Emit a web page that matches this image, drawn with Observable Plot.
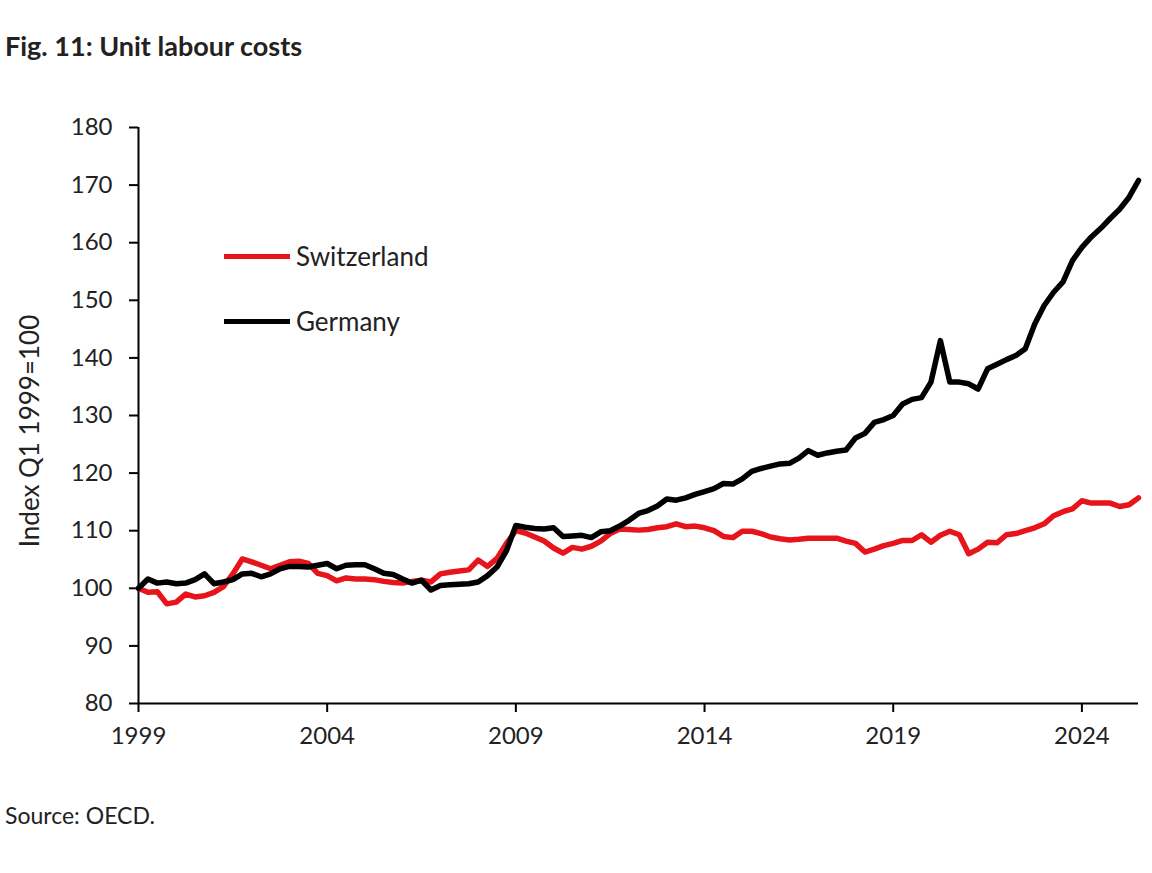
<!DOCTYPE html>
<html>
<head>
<meta charset="utf-8">
<script src="https://cdn.jsdelivr.net/npm/d3@7"></script>
<script src="https://cdn.jsdelivr.net/npm/@observablehq/plot@0.6"></script>
<style>
  html, body { margin: 0; padding: 0; background: #fff; }
  body { width: 1152px; height: 873px; position: relative; font-family: Lato, "Open Sans", sans-serif; color: #222; overflow: hidden; }
  #title { position: absolute; left: 5px; top: 31px; font-size: 27px; font-weight: bold; line-height: 30px; }
  #chart { position: absolute; left: 0; top: 100px; }
  #ylabel { position: absolute; left: 29px; top: 431px; font-size: 26px; white-space: nowrap; transform: translate(-50%, -50%) rotate(-90deg); line-height: 28px; }
  #legend { position: absolute; left: 224px; top: 238px; font-size: 26px; }
  .item { display: flex; align-items: center; height: 36px; margin-bottom: 29px; }
  .swatch { width: 66px; height: 5px; margin-right: 6px; }
  #source { position: absolute; left: 5px; top: 801px; font-size: 23px; line-height: 28px; }
</style>
</head>
<body>
<div id="title">Fig. 11: Unit labour costs</div>
<div id="chart"></div>
<div id="ylabel"></div>
<div id="legend"></div>
<div id="source">Source: OECD.</div>
<script>
const startYear = 1999;
const seriesNames = ["Switzerland", "Germany"];
const seriesColors = ["#e8141b", "#000000"];
const yTicks = [80, 90, 100, 110, 120, 130, 140, 150, 160, 170, 180];
const xTicks = [1999, 2004, 2009, 2014, 2019, 2024];
const yLabel = "Index Q1 1999=100";

// Quarterly index values, Q1 1999 = 100 (1999Q1 .. 2025Q3)
const switzerland = [
  100.0, 99.3, 99.4, 97.3,
  97.6, 99.0, 98.5, 98.7,
  99.3, 100.3, 102.5, 105.1,
  104.6, 104.0, 103.4, 104.0,
  104.6, 104.7, 104.3, 102.6,
  102.2, 101.3, 101.8, 101.6,
  101.6, 101.5, 101.2, 101.0,
  100.9, 101.2, 101.4, 101.1,
  102.5, 102.8, 103.0, 103.2,
  104.9, 103.8, 105.2, 107.8,
  110.0, 109.6, 108.9, 108.2,
  107.0, 106.1, 107.1, 106.8,
  107.3, 108.2, 109.5, 110.3,
  110.2, 110.1, 110.2, 110.5,
  110.7, 111.2, 110.7, 110.8,
  110.5, 110.0, 109.0, 108.8,
  109.9, 109.9, 109.5, 108.9,
  108.6, 108.4, 108.5, 108.7,
  108.7, 108.7, 108.7, 108.2,
  107.8, 106.3, 106.8, 107.4,
  107.8, 108.3, 108.3, 109.3,
  108.0, 109.2, 109.9, 109.3,
  106.0, 106.8, 108.0, 107.9,
  109.3, 109.5, 110.0, 110.5,
  111.2, 112.6, 113.3, 113.8,
  115.2, 114.8, 114.8, 114.8,
  114.2, 114.5, 115.7
];
const germany = [
  100.0, 101.6, 100.9, 101.1,
  100.8, 100.9, 101.5, 102.5,
  100.8, 101.1, 101.5, 102.5,
  102.6, 102.0, 102.5, 103.4,
  103.8, 103.8, 103.7, 104.0,
  104.3, 103.4, 104.0, 104.1,
  104.1, 103.4, 102.6, 102.4,
  101.6, 100.9, 101.4, 99.7,
  100.5, 100.6, 100.7, 100.8,
  101.1, 102.2, 103.7, 106.5,
  110.9, 110.6, 110.4, 110.3,
  110.5, 109.0, 109.1, 109.2,
  108.8, 109.8, 110.0, 110.8,
  111.8, 113.0, 113.5, 114.3,
  115.5, 115.3, 115.7, 116.3,
  116.8, 117.3, 118.2, 118.1,
  119.0, 120.3, 120.8, 121.2,
  121.6, 121.7, 122.6, 123.9,
  123.1, 123.5, 123.8, 124.0,
  126.1, 126.9, 128.8, 129.3,
  130.0, 132.0, 132.8, 133.1,
  135.8, 143.0, 135.8, 135.8,
  135.5, 134.6, 138.1, 138.9,
  139.7, 140.4, 141.6, 145.9,
  149.1, 151.4, 153.2, 156.9,
  159.2, 161.0, 162.5, 164.2,
  165.8, 167.9, 170.8
];

const toRows = (vals, name) => vals.map((v, i) => ({t: startYear + i / 4, v, name}));
const swissRows = toRows(switzerland, seriesNames[0]);
const germanRows = toRows(germany, seriesNames[1]);
const lastT = startYear + (switzerland.length - 1) / 4;

const font = "Lato, 'Open Sans', sans-serif";
const chart = Plot.plot({
  width: 1152,
  height: 680,
  marginLeft: 138,
  marginRight: 14,
  marginTop: 27,
  marginBottom: 77,
  style: {fontFamily: font, fontSize: "24px", color: "#222", background: "#fff", overflow: "visible"},
  x: {domain: [startYear, lastT]},
  y: {domain: [80, 180]},
  color: {domain: seriesNames, range: seriesColors},
  marks: [
    Plot.axisY({ticks: yTicks, tickSize: 9, tickPadding: 17, tickFormat: d3.format("d"),
      label: null, fontSize: 24, stroke: "#000", strokeWidth: 2}),
    Plot.axisX({ticks: xTicks, tickSize: 9, tickPadding: 14, tickFormat: d3.format("d"),
      label: null, fontSize: 24, stroke: "#000", strokeWidth: 2}),
    Plot.ruleX([startYear], {stroke: "#000", strokeWidth: 2}),
    Plot.ruleY([80], {stroke: "#000", strokeWidth: 2}),
    Plot.line(swissRows, {x: "t", y: "v", stroke: "name", strokeWidth: 5.5, strokeLinejoin: "round", strokeLinecap: "round"}),
    Plot.line(germanRows, {x: "t", y: "v", stroke: "name", strokeWidth: 5.5, strokeLinejoin: "round", strokeLinecap: "round"})
  ]
});
document.getElementById("chart").appendChild(chart);
document.getElementById("ylabel").textContent = yLabel;

const legend = document.getElementById("legend");
seriesNames.forEach((n, i) => {
  const item = document.createElement("div");
  item.className = "item";
  const sw = document.createElement("div");
  sw.className = "swatch";
  sw.style.background = seriesColors[i];
  const lab = document.createElement("span");
  lab.textContent = n;
  item.appendChild(sw);
  item.appendChild(lab);
  legend.appendChild(item);
});
</script>
</body>
</html>
